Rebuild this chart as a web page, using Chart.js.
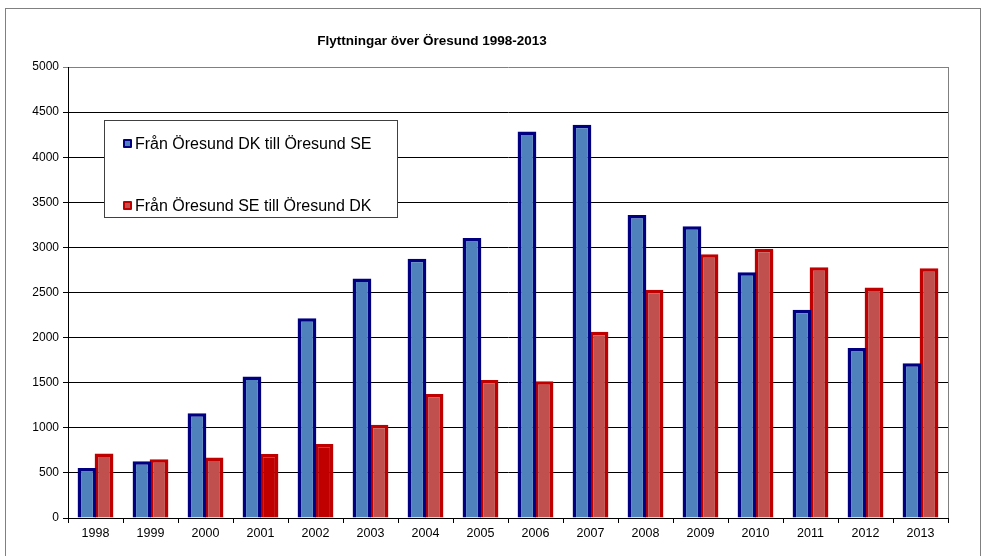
<!DOCTYPE html>
<html>
<head>
<meta charset="utf-8">
<script src="https://cdn.jsdelivr.net/npm/chart.js@4/dist/chart.umd.min.js"></script>
<style>
  body { margin: 0; background: #fff; font-family: "Liberation Sans", Arial, sans-serif; }
  #wrap { position: relative; width: 985px; height: 556px; }
  #frame { position: absolute; left: 5px; top: 8px; width: 976px; height: 560px; border: 1px solid #808080; box-sizing: border-box; }
  #title { position: absolute; left: 0; width: 864px; top: 33px; text-align: center; font-weight: bold; font-size: 13.5px; color: #000; }
  #legend { position: absolute; left: 104px; top: 120px; width: 294px; height: 98px; border: 1px solid #404040; background: #fff; box-sizing: border-box; font-size: 16px; }
  .item { position: absolute; left: 18px; height: 18px; line-height: 18px; }
  .item span.sw { display: inline-block; width: 5px; height: 5px; margin-right: 3px; vertical-align: 1px; border-radius: 1px; }
</style>
</head>
<body>
<div id="wrap">
  <canvas id="myChart" width="985" height="556"></canvas>
  <div id="frame"></div>
  <div id="title">Flyttningar över Öresund 1998-2013</div>
  <div id="legend">
    <div class="item" style="top:14px"><span class="sw" style="background:#4f81bd;border:2px solid #000080"></span>Från Öresund DK till Öresund SE</div>
    <div class="item" style="top:76px"><span class="sw" style="background:#c0504d;border:2px solid #c00000"></span>Från Öresund SE till Öresund DK</div>
  </div>
</div>
<script>
let years = ['1998', '1999', '2000', '2001', '2002', '2003', '2004', '2005', '2006', '2007', '2008', '2009', '2010', '2011', '2012', '2013'];
let dkToSe = [555, 630, 1160, 1570, 2215, 2655, 2875, 3105, 4285, 4360, 3360, 3235, 2725, 2310, 1885, 1715];
let seToDk = [715, 650, 670, 710, 820, 1035, 1375, 1530, 1515, 2065, 2530, 2925, 2985, 2780, 2555, 2770];
let yTicks = [0, 500, 1000, 1500, 2000, 2500, 3000, 3500, 4000, 4500, 5000];

let redFill = years.map(y => (y === '2001' || y === '2002') ? '#c00000' : '#c0504d');

let plotFrame = {
    id: 'plotFrame',
    afterDraw(chart) {
        let a = chart.chartArea;
        let ctx = chart.ctx;
        ctx.save();
        ctx.strokeStyle = '#808080';
        ctx.lineWidth = 1;
        ctx.beginPath();
        ctx.moveTo(Math.round(a.right) + 0.5, a.top);
        ctx.lineTo(Math.round(a.right) + 0.5, a.bottom);
        ctx.stroke();
        ctx.restore();
    }
};

let ctx = document.getElementById('myChart').getContext('2d');

new Chart(ctx, {
    type: 'bar',
    data: {
        labels: years,
        datasets: [{
            label: 'Från Öresund DK till Öresund SE',
            data: dkToSe,
            backgroundColor: '#4f81bd',
            borderColor: '#000080',
            borderWidth: 3.5,
            categoryPercentage: 0.62,
            barPercentage: 1.1
        }, {
            label: 'Från Öresund SE till Öresund DK',
            data: seToDk,
            backgroundColor: redFill,
            borderColor: '#c00000',
            borderWidth: 3.5,
            categoryPercentage: 0.62,
            barPercentage: 1.1
        }]
    },
    options: {
        responsive: false,
        animation: false,
        layout: { padding: { left: 8, right: 37, top: 67, bottom: 8 } },
        plugins: {
            legend: { display: false },
            title: { display: false },
            tooltip: { enabled: false }
        },
        scales: {
            x: {
                grid: { display: true, drawOnChartArea: false, offset: true, color: '#000', tickLength: 5 },
                border: { color: '#000' },
                ticks: { color: '#000', font: { family: 'Liberation Sans', size: 12.5 }, padding: 3, maxRotation: 0 },
                afterFit(s) { s.height = 30; }
            },
            y: {
                min: 0,
                max: 5000,
                afterBuildTicks(s) { s.ticks = yTicks.map(v => ({ value: v })); },
                grid: {
                    color: c => c.tick && c.tick.value === 5000 ? '#808080' : '#000',
                    tickLength: 5
                },
                border: { color: '#000' },
                ticks: { color: '#000', font: { family: 'Liberation Sans', size: 12 }, padding: 4, callback: v => String(v) },
                afterFit(s) { s.width = 60; }
            }
        }
    },
    plugins: [plotFrame]
});
</script>
</body>
</html>
